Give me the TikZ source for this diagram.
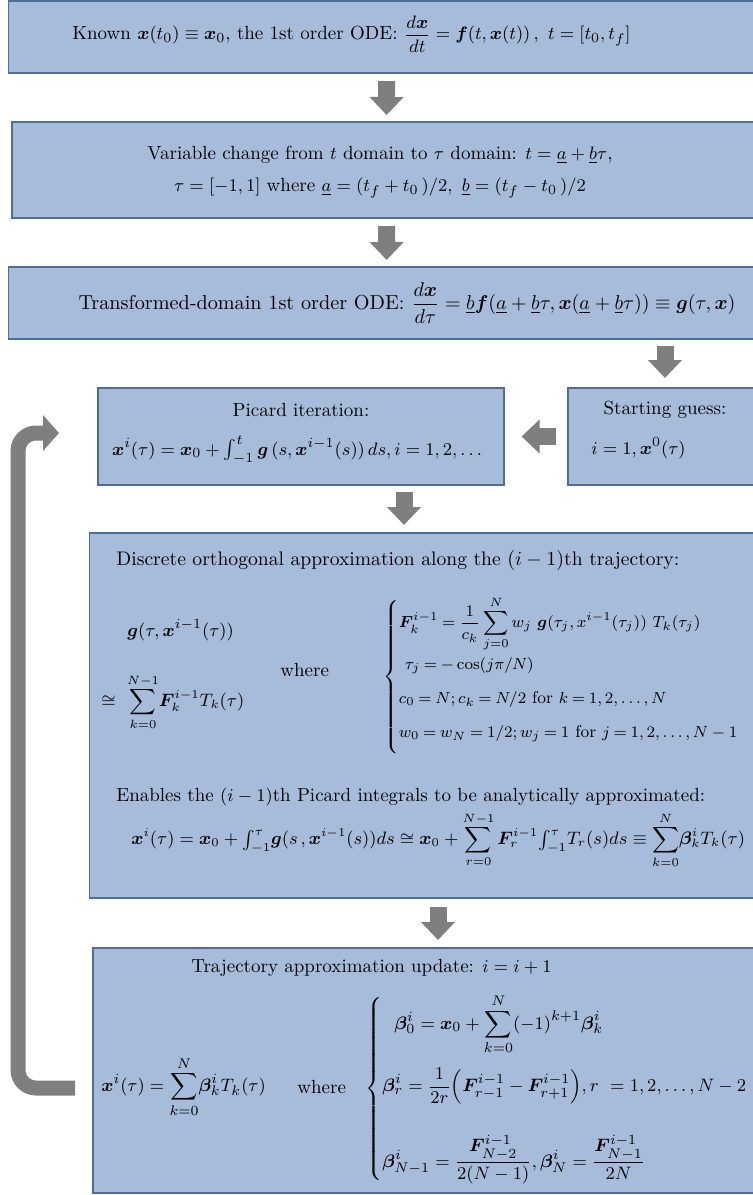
\documentclass[tikz,border=0pt]{standalone}
\usepackage{amsmath}
\usepackage{amssymb}
\usepackage{bm}
\usetikzlibrary{arrows.meta,positioning}
\definecolor{boxblue}{RGB}{167,188,218}
\definecolor{boxedge}{RGB}{79,109,150}
\definecolor{arrowgray}{RGB}{127,127,127}
\tikzset{
  box/.style     ={rectangle, draw=boxedge, fill=boxblue, line width=0.6pt,
                   inner sep=0pt, outer sep=0pt},
  txt/.style     ={inner sep=0pt, font=\fontsize{9.5}{12}\selectfont},
  small/.style   ={font=\fontsize{9}{11}\selectfont},
  large/.style   ={font=\fontsize{9.8}{12}\selectfont},
  garrow/.style  ={-{Triangle[width=16.5pt,length=9pt]}, line width=8.5pt, draw=arrowgray},
  loopback/.style={-{Triangle[width=17.5pt,length=8pt]}, line width=7.5pt, draw=arrowgray,
                   rounded corners=9pt}
}

\begin{document}
\begin{tikzpicture}[x=0.5pt, y=-0.5pt]
\useasboundingbox (0,0) rectangle (753,1195);
% boxes
\node[box, minimum width=378.25pt, minimum height=36pt] (known) at (386.75,37) {};
\node[box, minimum width=374.5pt, minimum height=48pt] (var) at (386.5,170) {};
\node[box, minimum width=378.25pt, minimum height=36pt] (trans) at (386.75,303) {};
\node[box, minimum width=203pt, minimum height=48.5pt] (pic) at (301,436.5) {};
\node[box, minimum width=97pt, minimum height=48.5pt] (start) at (665,436.5) {};
\node[box, minimum width=340.25pt, minimum height=182.5pt] (disc) at (429.75,715.5) {};
\node[box, minimum width=338.5pt, minimum height=122.5pt] (traj) at (431.5,1070.5) {};

% texts, top
\node[txt, anchor=west] (tknown) at (72,34) {Known $\bm{x}(t_0)\equiv\bm{x}_0$, the 1st order ODE: $\dfrac{d\bm{x}}{dt} = \bm{f}(t,\bm{x}(t))\,,\ t = [t_0, t_f]$};
\node[txt] (tvar1) at (380,155) {Variable change from $t$ domain to $\tau$ domain: $t = \underline{a} + \underline{b}\tau$,};
\node[txt] (tvar2) at (380,188) {$\tau = [-1, 1]$ where $\underline{a} = (t_f + t_0\,)/2,\ \underline{b} = (t_f - t_0\,)/2$};
\node[txt, font=\fontsize{10.1}{12}\selectfont] (ttrans) at (407,303) {Transformed-domain 1st order ODE: $\dfrac{d\bm{x}}{d\tau} = \underline{b}\bm{f}(\underline{a} + \underline{b}\tau, \bm{x}(\underline{a} + \underline{b}\tau)) \equiv \bm{g}(\tau, \bm{x})$};
\node[txt] (tpic1) at (301,410) {Picard iteration:};
\node[txt] (tpic2) at (297,450) {$\bm{x}^i(\tau) = \bm{x}_0 + \int_{-1}^{t}\bm{g}\,(s, \bm{x}^{i-1}(s))\,ds, i = 1, 2, \ldots$};
\node[txt] (tsg1) at (665,410) {Starting guess:};
\node[txt, anchor=west] (tsg2) at (591,448) {$i = 1, \bm{x}^0(\tau)$};

% discrete approximation
\node[txt, large, anchor=west] (tdisc) at (116,560) {Discrete orthogonal approximation along the $(i-1)$th trajectory:};
\node[txt, anchor=west] (tg) at (127,630) {$\bm{g}(\tau, \bm{x}^{i-1}(\tau))$};
\node[txt, small, anchor=west] (tsum) at (101,702) {$\cong\ \displaystyle\sum_{k=0}^{N-1}\!\bm{F}_k^{i-1}T_k(\tau)$};
\node[txt, anchor=west] (twhere1) at (280,670) {where};
\node[txt, font=\fontsize{8.5}{10}\selectfont, anchor=west] (tcases1) at (383,677) {\thickmuskip=4mu$\left\{\begin{array}{@{}l@{}}
  \bm{F}_k^{i-1} = \dfrac{1}{c_k}\displaystyle\sum_{j=0}^{N} w_j\ \bm{g}(\tau_j, x^{i-1}(\tau_j))\ T_k(\tau_j)\\[11pt]
  \ \tau_j = -\cos(j\pi/N)\\[7pt]
  c_0 = N; c_k = N/2 \text{ for } k = 1, 2, \ldots, N\\[7pt]
  w_0 = w_N = 1/2; w_j = 1 \text{ for } j = 1, 2, \ldots, N-1\\[7pt]
\end{array}\right.$};
\node[txt, anchor=west] (tenable) at (116,797) {Enables the $(i-1)$th Picard integrals to be analytically approximated:};
\node[txt, font=\fontsize{9.1}{11}\selectfont, anchor=west] (tint) at (131,840) {$\displaystyle\bm{x}^i(\tau) = \bm{x}_0 + {\textstyle\int_{-1}^{\tau}}\bm{g}(s\,, \bm{x}^{i-1}(s))ds \cong \bm{x}_0 + \sum_{r=0}^{N-1}\bm{F}_r^{i-1}{\textstyle\int_{-1}^{\tau}}T_r(s)ds \equiv \sum_{k=0}^{N}\!\bm{\beta}_k^iT_k(\tau)$};

% trajectory update
\node[txt, anchor=west] (ttraj) at (191,968) {Trajectory approximation update: $i = i + 1$};
\node[txt, anchor=west] (txi) at (101,1087) {$\displaystyle\bm{x}^i(\tau) = \sum_{k=0}^{N}\!\bm{\beta}_k^iT_k(\tau)$};
\node[txt, anchor=west] (twhere2) at (297,1087) {where};
\node[txt, anchor=west] (tcases2) at (365,1089) {$\left\{\begin{array}{@{}l@{}}
  \hspace{6pt}\bm{\beta}_0^i = \bm{x}_0 + \displaystyle\sum_{k=0}^{N}(-1)^{k+1}\bm{\beta}_k^i\\[16pt]
  \bm{\beta}_r^i = \dfrac{1}{2r}\Bigl(\bm{F}_{r-1}^{i-1} - \bm{F}_{r+1}^{i-1}\Bigr), r\ = 1, 2, \ldots, N-2\\[18pt]
  \bm{\beta}_{N-1}^i = \dfrac{\bm{F}_{N-2}^{i-1}}{2(N-1)}, \bm{\beta}_N^i = \dfrac{\bm{F}_{N-1}^{i-1}}{2N}
\end{array}\right.$};

% arrows
\coordinate (mid1) at (404,0);
\coordinate (mid2) at (438,0);
\coordinate (lpa) at (75,1088);
\coordinate (lpb) at (59,433);
\draw[garrow, shorten <=4pt, shorten >=3.5pt] (known) -- (var);
\draw[garrow, shorten <=4pt, shorten >=3.5pt] (var) -- (trans);
\draw[garrow, shorten <=3.5pt, shorten >=5pt] (trans.south -| start.north) -- (start.north);
\draw[garrow, shorten <=6pt, shorten >=8.8pt] (start.west) -- (pic.east);
\draw[garrow, shorten <=3.5pt, shorten >=4pt] (pic.south -| mid1) -- (disc.north -| mid1);
\draw[garrow, shorten <=4.5pt, shorten >=4pt] (disc.south -| mid2) -- (traj.north -| mid2);
\draw[loopback] (lpa) -- ++(-57,0) |- (lpb);
\end{tikzpicture}
\end{document}
